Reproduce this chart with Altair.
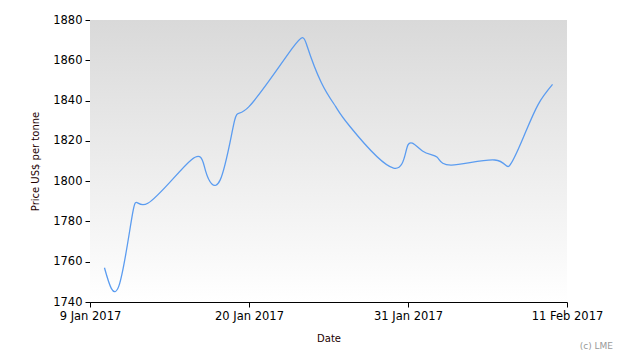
import altair as alt
import pandas as pd

dates = ["2017-01-10", "2017-01-11", "2017-01-12", "2017-01-13", "2017-01-16",
         "2017-01-17", "2017-01-18", "2017-01-19", "2017-01-20", "2017-01-23",
         "2017-01-24", "2017-01-25", "2017-01-26", "2017-01-27", "2017-01-30",
         "2017-01-31", "2017-02-01", "2017-02-02", "2017-02-03", "2017-02-06",
         "2017-02-07", "2017-02-08", "2017-02-09", "2017-02-10"]
prices = [1757, 1748, 1786, 1789, 1810.5, 1805, 1800.5, 1830, 1837, 1866,
          1867.5, 1849, 1837, 1827, 1806.5, 1818, 1815, 1812, 1808, 1810.5,
          1807.5, 1822, 1838, 1848]
y_ticks = [1740, 1760, 1780, 1800, 1820, 1840, 1860, 1880]
x_ticks = ["2017-01-09", "2017-01-20", "2017-01-31", "2017-02-11"]

df = pd.DataFrame({"date": [d + "T00:00:00" for d in dates], "price": prices})

def dt(s):
    y, m, d = map(int, s.split("-"))
    return alt.DateTime(year=y, month=m, date=d)

W, H = 477, 282

bg = alt.Chart(pd.DataFrame({"a": [0]})).mark_rect(
    fill=alt.Gradient(gradient="linear",
                      stops=[alt.GradientStop(color="#d9d9d9", offset=0),
                             alt.GradientStop(color="#ffffff", offset=1)],
                      x1=0, x2=0, y1=0, y2=1)
).encode(x=alt.value(0), x2=alt.value(W), y=alt.value(0), y2=alt.value(H))

line = alt.Chart(df).mark_line(
    interpolate="natural", color="#5b9cf0", strokeWidth=1.3
).encode(
    x=alt.X("date:T", title="Date",
            scale=alt.Scale(domain=[dt(x_ticks[0]), dt(x_ticks[-1])]),
            axis=alt.Axis(values=[dt(v) for v in x_ticks], format="%-d %b %Y",
                          labelFlush=False, labelOverlap=False, grid=False,
                          titlePadding=12)),
    y=alt.Y("price:Q", title="Price US$ per tonne",
            scale=alt.Scale(domain=[1740, 1880], nice=False, zero=False),
            axis=alt.Axis(values=y_ticks, format="d", grid=False, titlePadding=12)),
)

credit = alt.Chart(pd.DataFrame({"t": ["(c) LME"]})).mark_text(
    align="right", baseline="middle", fontSize=9, color="#999999",
    font="DejaVu Sans"
).encode(text="t:N", x=alt.value(523), y=alt.value(326))

chart = alt.layer(bg, line, credit).properties(
    width=W, height=H, autosize="none",
    padding={"left": 82, "top": 12, "right": 50, "bottom": 50},
    background="white",
).configure_view(stroke="transparent").configure_axis(
    domainColor="black", tickColor="black", labelColor="black",
    labelFont="DejaVu Sans", labelFontSize=11.5, tickSize=5,
    titleFont="DejaVu Sans", titleFontSize=10, titleFontWeight="normal",
    titleColor="#220000", labelPadding=3,
)

chart.save("out.html", embed_options={"renderer": "svg", "actions": False})
